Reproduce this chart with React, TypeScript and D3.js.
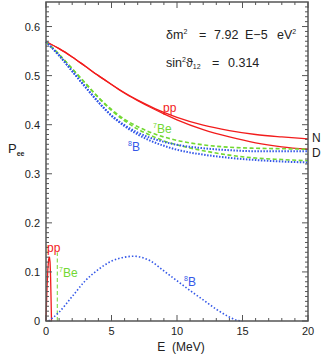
import * as d3 from 'd3';

// survival probability curves
const energies = [0, 1, 2, 3, 4, 5, 6, 7, 8, 9, 10, 12, 14, 16, 18, 20];
const ppNight = [0.569, 0.555, 0.538, 0.519, 0.500, 0.482, 0.465, 0.450, 0.437, 0.425, 0.415, 0.399, 0.388, 0.380, 0.375, 0.371];
const ppDay = [0.569, 0.555, 0.538, 0.519, 0.500, 0.482, 0.464, 0.449, 0.435, 0.422, 0.410, 0.390, 0.375, 0.363, 0.355, 0.350];
const be7Night = [0.569, 0.543, 0.514, 0.485, 0.456, 0.431, 0.411, 0.396, 0.384, 0.375, 0.368, 0.359, 0.354, 0.352, 0.351, 0.350];
const be7Day = [0.569, 0.543, 0.514, 0.484, 0.455, 0.429, 0.408, 0.391, 0.378, 0.367, 0.359, 0.347, 0.338, 0.332, 0.329, 0.3265];
const b8Night = [0.569, 0.541, 0.509, 0.477, 0.446, 0.419, 0.399, 0.384, 0.373, 0.365, 0.359, 0.352, 0.348, 0.346, 0.346, 0.346];
const b8Day = [0.569, 0.541, 0.509, 0.477, 0.446, 0.418, 0.397, 0.380, 0.367, 0.357, 0.349, 0.339, 0.3325, 0.328, 0.325, 0.323];

// neutrino spectra (arbitrary normalisation)
const ppSpecE = [0, 0.03, 0.08, 0.14, 0.2, 0.26, 0.31, 0.35, 0.39, 0.42];
const ppSpec = [0, 0.03, 0.07, 0.105, 0.125, 0.131, 0.12, 0.09, 0.04, 0];
const be7LineE = 0.862;
const be7LineTop = 0.14;
const b8SpecE = [0.2, 1, 2, 3, 4, 5, 6, 6.7, 7.5, 8, 9, 10, 11, 12, 13, 14, 14.5, 15];
const b8Spec = [0, 0.018, 0.05, 0.082, 0.105, 0.122, 0.130, 0.132, 0.128, 0.122, 0.102, 0.082, 0.062, 0.043, 0.024, 0.008, 0.002, 0];

const xTicks = [0, 5, 10, 15, 20];
const yTicks = [0, 0.1, 0.2, 0.3, 0.4, 0.5, 0.6];

const RED = '#f21c1c';
const GREEN = '#72d832';
const BLUE = '#3458e8';
const AXIS = '#555';
const FONT = 'Liberation Sans, Arial, sans-serif';

export default function App() {
  const W = 332, H = 357;
  const left = 46, right = 308, top = 2, bottom = 321;

  const x = d3.scaleLinear().domain([0, 20]).range([left, right]);
  const y = d3.scaleLinear().domain([0, 0.65]).range([bottom, top]);

  const line = (xs: number[], ys: number[], curve: any = d3.curveMonotoneX) =>
    d3.line<number>().x((_, i) => x(xs[i])).y(d => y(d)).curve(curve)(ys) || '';

  const xMinor = d3.range(0, 21, 1);
  const yMinor = d3.range(0, 65, 1).map(v => v / 100);

  return (
    <svg width={W} height={H} style={{ position: 'absolute', left: 0, top: 0, background: '#fff' }} fontFamily={FONT}>
      {/* curves */}
      <path d={line(energies, ppNight)} fill="none" stroke={RED} strokeWidth={1.3} />
      <path d={line(energies, ppDay)} fill="none" stroke={RED} strokeWidth={1.3} />
      <path d={line(energies, be7Night)} fill="none" stroke={GREEN} strokeWidth={1.6} strokeDasharray="4,2.5" />
      <path d={line(energies, be7Day)} fill="none" stroke={GREEN} strokeWidth={1.6} strokeDasharray="4,2.5" />
      <path d={line(energies, b8Night)} fill="none" stroke={BLUE} strokeWidth={2} strokeDasharray="1.5,1.5" />
      <path d={line(energies, b8Day)} fill="none" stroke={BLUE} strokeWidth={2} strokeDasharray="1.5,1.5" />

      {/* spectra */}
      <path d={line(ppSpecE, ppSpec, d3.curveLinear)} fill="none" stroke={RED} strokeWidth={1.3} />
      <line x1={x(be7LineE)} x2={x(be7LineE)} y1={y(0)} y2={y(be7LineTop)} stroke={GREEN} strokeWidth={1} strokeDasharray="4,2.5" />
      <path d={line(b8SpecE, b8Spec)} fill="none" stroke={BLUE} strokeWidth={1.6} strokeDasharray="1.5,2" />

      {/* frame and ticks */}
      <rect x={left} y={top} width={right - left} height={bottom - top} fill="none" stroke={AXIS} strokeWidth={1.5} />
      {xMinor.map(v => {
        const major = v % 5 === 0;
        const len = major ? 6 : 3;
        return (
          <g key={'x' + v} stroke={AXIS} strokeWidth={1}>
            <line x1={x(v)} x2={x(v)} y1={bottom} y2={bottom - len} />
            <line x1={x(v)} x2={x(v)} y1={top} y2={top + len} />
          </g>
        );
      })}
      {yMinor.map(v => {
        const major = Math.round(v * 100) % 10 === 0;
        const len = major ? 6 : 3;
        return (
          <g key={'y' + v} stroke={AXIS} strokeWidth={1}>
            <line x1={left} x2={left + len} y1={y(v)} y2={y(v)} />
            <line x1={right} x2={right - len} y1={y(v)} y2={y(v)} />
          </g>
        );
      })}

      {/* tick labels */}
      {xTicks.map(v => (
        <text key={'xl' + v} x={x(v)} y={335} fontSize={11} textAnchor="middle" fill="#222">{v}</text>
      ))}
      {yTicks.map(v => (
        <text key={'yl' + v} x={40} y={y(v) + 4} fontSize={11} textAnchor="end" fill="#222">{v === 0 ? '0' : v.toFixed(1)}</text>
      ))}

      {/* axis titles */}
      <text x={181} y={351} fontSize={12} textAnchor="middle" fill="#222">E&#160;&#160;(MeV)</text>
      <text x={8} y={153} fontSize={13} fill="#222">P<tspan fontSize={7} fontWeight="bold" dy={3}>ee</tspan></text>

      {/* parameters */}
      <g fontSize={12.5} fill="#222">
        <text x={166} y={38.5}>δm<tspan fontSize={7} dy={-5}>2</tspan></text>
        <text x={199} y={38.5}>=</text>
        <text x={214} y={38.5}>7.92</text>
        <text x={245} y={38.5}>E−5</text>
        <text x={277} y={38.5}>eV<tspan fontSize={7} dy={-5}>2</tspan></text>
        <text x={166} y={67}>sin<tspan fontSize={7} dy={-5}>2</tspan><tspan dy={5}>ϑ</tspan><tspan fontSize={7} dy={2}>12</tspan></text>
        <text x={212} y={67}>=</text>
        <text x={228} y={67}>0.314</text>
      </g>

      {/* curve labels */}
      <text x={163} y={112} fontSize={12} fill={RED}>pp</text>
      <text x={153} y={133} fontSize={12} fill={GREEN}><tspan fontSize={7} dy={-5}>7</tspan><tspan dy={5}>Be</tspan></text>
      <text x={128} y={151} fontSize={12} fill={BLUE}><tspan fontSize={7} dy={-5}>8</tspan><tspan dy={5}>B</tspan></text>
      <text x={312} y={142} fontSize={12} fill="#222">N</text>
      <text x={312} y={157} fontSize={12} fill="#222">D</text>

      <text x={47} y={252} fontSize={12} fill={RED}>pp</text>
      <text x={59} y={277} fontSize={12} fill={GREEN}><tspan fontSize={7} dy={-5}>7</tspan><tspan dy={5}>Be</tspan></text>
      <text x={184} y={286} fontSize={12} fill={BLUE}><tspan fontSize={7} dy={-5}>8</tspan><tspan dy={5}>B</tspan></text>
    </svg>
  );
}
